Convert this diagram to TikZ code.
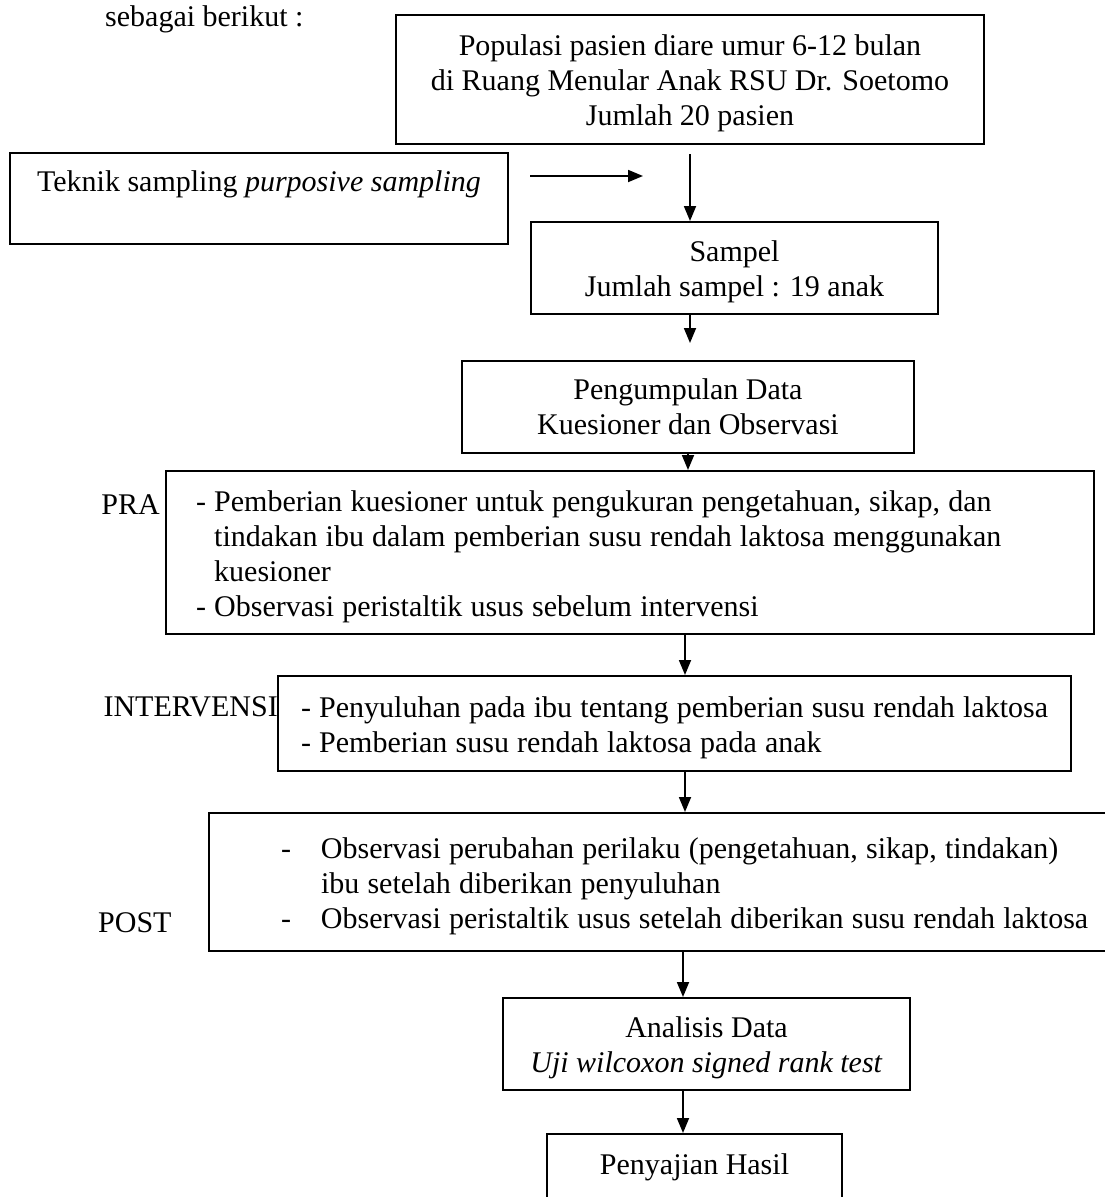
\documentclass[tikz,border=0pt]{standalone}
\usepackage{fontspec}
\setmainfont{Liberation Serif}
\usetikzlibrary{arrows.meta,calc}
\newcommand{\toppad}{\rule{0pt}{29pt}}
\begin{document}
\begin{tikzpicture}[x=1pt,y=-1pt,
  every node/.style={font=\fontsize{30}{35}\selectfont, inner sep=0pt},
  box/.style={draw, line width=2pt, anchor=north west, align=center},
  lbox/.style={box, align=left, execute at begin node={\spaceskip=8.2pt\relax}},
  arr/.style={line width=1.8pt, -{Triangle[length=15pt,width=12pt]}}]
\useasboundingbox (0,0) rectangle (1105,1197);
\clip (0,0) rectangle (1105,1197);

\node[anchor=base west] (intro) at (105,26) {sebagai berikut :};

\node[box, minimum width=588pt, minimum height=129pt] (pop) at (395,14)
  {\toppad Populasi pasien diare umur 6-12 bulan\\di Ruang Menular Anak RSU Dr. Soetomo\\Jumlah 20 pasien};

\node[box, minimum width=498pt, minimum height=91pt] (tek) at (9,152)
  {Teknik sampling \textit{purposive sampling}\\\mbox{}};

\node[box, minimum width=407pt, minimum height=92pt] (sam) at (530,221)
  {\toppad Sampel\\Jumlah sampel : 19 anak};

\node[box, minimum width=452pt, minimum height=92pt] (peng) at (461,360)
  {Pengumpulan Data\\Kuesioner dan Observasi};

\node[lbox, text width=868pt, inner xsep=30pt, minimum height=163pt] (pra) at (165,470)
  {\toppad\mbox{- Pemberian kuesioner untuk pengukuran pengetahuan, sikap, dan}\\
   \mbox{\phantom{- }tindakan ibu dalam pemberian susu rendah laktosa menggunakan}\\
   \phantom{- }kuesioner\\
   - Observasi peristaltik usus sebelum intervensi};

\node[lbox, text width=747pt, inner xsep=23pt, minimum height=95pt] (int) at (277,675)
  {\toppad\mbox{- Penyuluhan pada ibu tentang pemberian susu rendah laktosa}\\
   - Pemberian susu rendah laktosa pada anak};

\node[lbox, text width=820pt, inner xsep=72pt, minimum height=138pt] (post) at (208,812)
  {\toppad\mbox{\makebox[40pt][l]{-}Observasi perubahan perilaku (pengetahuan, sikap, tindakan)}\\
   \hspace*{40pt}ibu setelah diberikan penyuluhan\\
   \mbox{\makebox[40pt][l]{-}Observasi peristaltik usus setelah diberikan susu rendah laktosa}};

\node[box, minimum width=407pt, minimum height=92pt] (ana) at (502,997)
  {\toppad Analisis Data\\\textit{Uji wilcoxon signed rank test}};

\node[box, minimum width=295pt, minimum height=95pt] (pen) at (546,1133)
  {Penyajian Hasil\\\mbox{}};

\node[anchor=east] (lpra) at (160,505) {PRA};
\node[anchor=east] (lint) at (278,707) {INTERVENSI};
\node[anchor=west] (lpost) at (98,923) {POST};

\coordinate (s1) at (530,176);
\coordinate (s2) at (643,176);
\coordinate (c2) at (685,0);
\coordinate (c3) at (683,0);

\draw[arr] (s1) -- (s2);
\draw[arr] ($(pop.south)+(0,9)$) -- (pop.south |- sam.north);
\draw[arr] (sam.south -| pop.south) -- ($(peng.north -| pop.south)+(0,-17)$);
\draw[arr] (peng.south) -- (peng.south |- pra.north);
\draw[arr] (pra.south -| c2) -- (int.north -| c2);
\draw[arr] (int.south -| c2) -- (post.north -| c2);
\draw[arr] (post.south -| c3) -- (ana.north -| c3);
\draw[arr] (ana.south -| c3) -- (pen.north -| c3);
\end{tikzpicture}
\end{document}
